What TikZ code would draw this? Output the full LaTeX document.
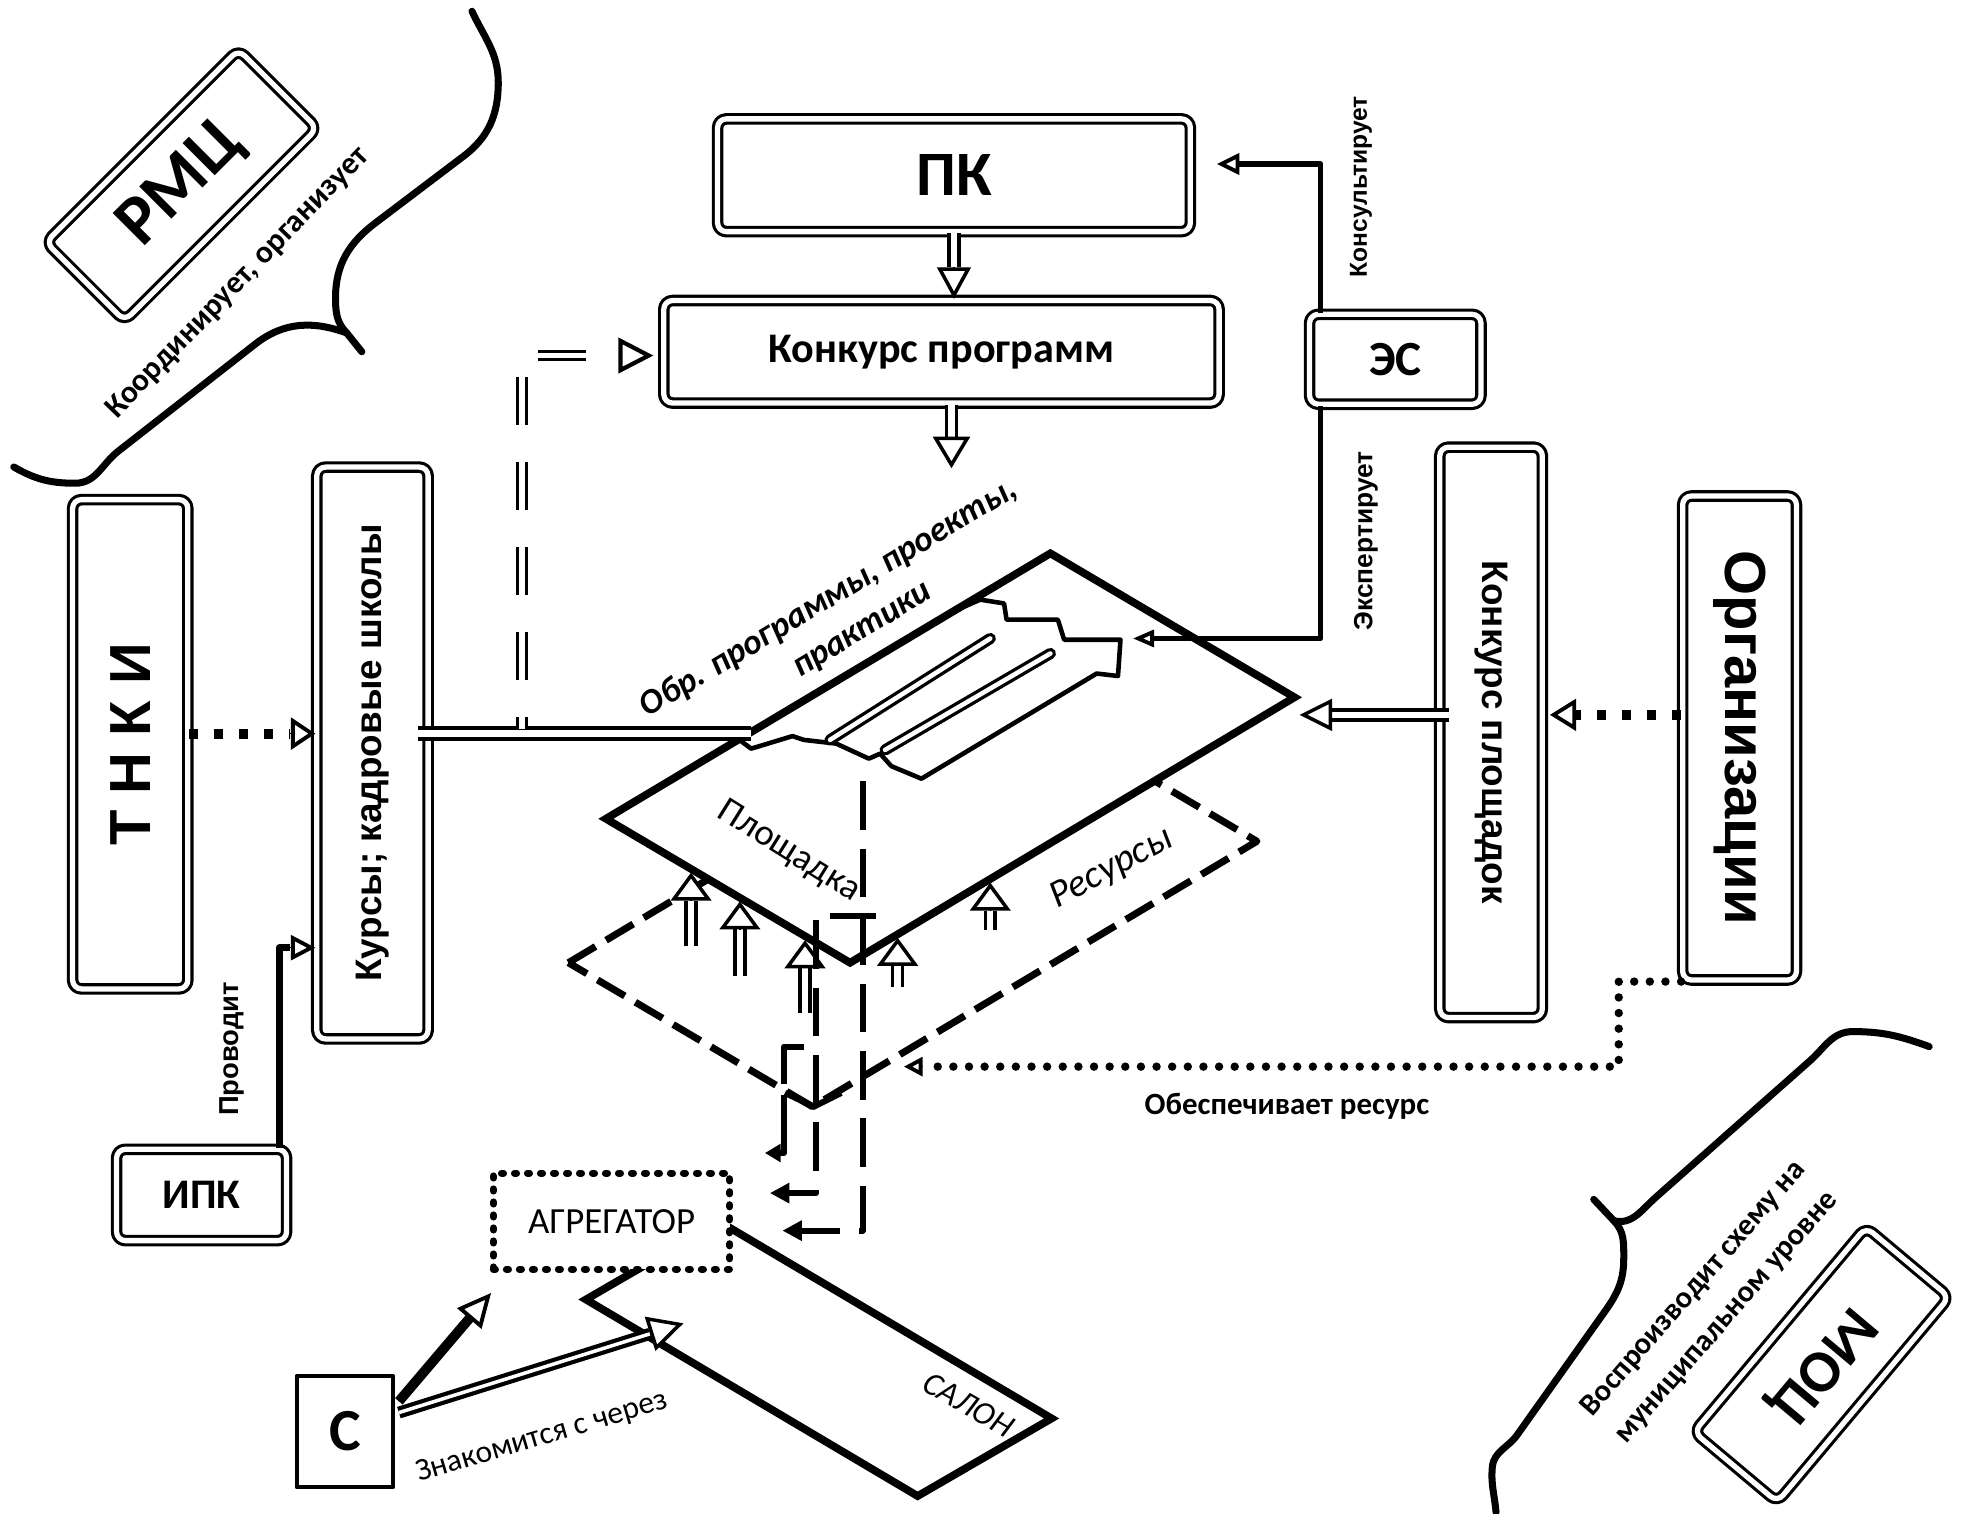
\documentclass[tikz,border=0pt]{standalone}
\usepackage{graphicx}
\usepackage{fontspec}
\setmainfont{Carlito}
\newfontfamily\arialf{Liberation Sans}
\usetikzlibrary{arrows.meta,calc}
\newcommand\fs[2]{\fontsize{#1pt}{#2pt}\selectfont}
\newcommand\hollowarr[5]{%
  \draw[#5] (#1) -- ($(#2)!#3!(#1)$);
  \draw[-{Triangle[fill=white,length=#3,width=#4,line width=1pt]}] ($(#2)!#3!(#1)$) -- (#2);}
\begin{document}
\begin{tikzpicture}[x=0.01252cm,y=-0.01252cm,line join=round,
  dbox/.style={draw,double=white,double distance=1.5pt,line width=0.9pt,rounded corners=2.5pt,fill=white,inner sep=0pt},
  sbox/.style={draw,line width=1.2pt,fill=white,inner sep=0pt},
  dotbox/.style={draw,line width=2pt,line cap=round,dash pattern=on 0.6pt off 3.1pt,fill=white,inner sep=0pt},
  hshaft/.style={draw=black,double=white,line width=1pt,double distance=1.8pt},
  cshaft/.style={draw=black,double=white,line width=1.2pt,double distance=1.0pt},
  pipe/.style={draw=black,double=white,line width=1pt,double distance=2.2pt},
  conn/.style={line width=1.6pt},
  sqdots/.style={line width=2.8pt,dash pattern=on 2.5pt off 4.6pt},
  rdots/.style={line width=2.4pt,line cap=round,dash pattern=on 0pt off 4.45pt},
  resdash/.style={line width=2pt,dash pattern=on 9pt off 3.5pt},
  vdash/.style={line width=1.7pt,dash pattern=on 13.9pt off 5.3pt},
  hdash/.style={draw=black,double=white,line width=0.9pt,double distance=1.5pt,dash pattern=on 13.53pt off 10.69pt,dash phase=10.33pt},
  bracel/.style={line width=2pt,line cap=round},
  paraline/.style={line width=2.2pt,line join=miter},
  btip/.style={-{Triangle[length=5.5pt,width=5.5pt]}},
  lbl/.style={inner sep=0pt}]
\useasboundingbox (0,0) rectangle (1568,1209);
\fill[white] (0,0) rectangle (1568,1209);

% braces
\draw[bracel] (377,9) to[out=-65,in=90] (398,66) to[out=-90,in=37] (370,125) -- (300,178) to[out=217,in=90] (268,238) to[out=-90,in=135] (277,266) -- (289,281);
\draw[bracel] (277,266) to[out=160,in=37] (205,274) -- (95,360) to[out=217,in=0] (60,386) to[out=180,in=-30] (11,373);
\draw[bracel] (1195,1208) to[out=95,in=-95] (1192,1172) to[out=85,in=235] (1212,1146) -- (1283,1046) to[out=55,in=-90] (1297,1005) to[out=90,in=-45] (1289,975) -- (1273,958);
\draw[bracel] (1289,975) to[out=-15,in=221] (1323,956) -- (1445,848) to[out=41,in=180] (1480,824) to[out=0,in=160] (1541,836);

% salon
\coordinate (sT) at (575,976); \coordinate (sR) at (840,1133);
\coordinate (sB) at (733,1195); \coordinate (sL) at (468,1038);
\draw[paraline] (sT) -- (sR) -- (sB) -- (sL) -- cycle;

% boxes
\node[dbox,minimum width=134.6pt,minimum height=32.1pt] (pk) at (762,140) {\fs{18}{18}\bfseries ПК};
\node[dbox,minimum width=158.1pt,minimum height=29.2pt] (kp) at (752,281) {\fs{12}{12}\bfseries Конкурс программ};
\node[dbox,minimum width=48.8pt,minimum height=25.6pt] (es) at (1114.5,287) {\fs{14}{14}\bfseries ЭС};
\node[dbox,minimum width=32.8pt,minimum height=139.3pt] (tnki) at (104,594.5) {\rotatebox{90}{\arialf\bfseries\fs{16.5}{16.5}Т Н К И}};
\node[dbox,minimum width=31.7pt,minimum height=162.8pt] (kursy) at (297.5,601.5) {\rotatebox{90}{\arialf\bfseries\fs{10.5}{10.5}Курсы; кадровые школы}};
\node[dbox,minimum width=29.2pt,minimum height=162.4pt] (kpl) at (1191,585) {\rotatebox{-90}{\arialf\bfseries\fs{10.5}{10.5}Конкурс площадок}};
\node[dbox,minimum width=32.4pt,minimum height=137.8pt] (org) at (1389.5,589.5) {\rotatebox{-90}{\arialf\bfseries\fs{16.5}{16.5}Организации}};
\node[dbox,minimum width=48.4pt,minimum height=26pt] (ipk) at (161,954.5) {\fs{12}{12}\bfseries ИПК};
\node[dotbox,minimum width=67.3pt,minimum height=27.4pt] (agr) at (488.5,975.5) {\fs{10.5}{10.5}АГРЕГАТОР};
\node[sbox,minimum width=27.4pt,minimum height=31.7pt] (cbox) at (275.5,1143.5) {\fs{17}{17}\bfseries С};
\node[dbox,rotate=45,minimum width=77.6pt,minimum height=31.7pt] (rmc) at (145,148) {\fs{20}{20}\bfseries РМЦ};
\node[dbox,rotate=230,minimum width=76.2pt,minimum height=31pt] (moc) at (1455,1090) {\fs{17}{17}\bfseries МОЦ};

% resources and platform
\coordinate (pL) at (484,654); \coordinate (pT) at (839,442);
\coordinate (pR) at (1034,557); \coordinate (pB) at (679,769);
\coordinate (rL) at (454,769); \coordinate (rT) at (809,557);
\coordinate (rR) at (1004,672); \coordinate (rB) at (649,884);
\draw[resdash] (rL) -- (rT) -- (rR) -- (rB) -- cycle;
\fill[white] (pL) -- (pT) -- (pR) -- (pB) -- cycle;
\filldraw[fill=white,line width=1.3pt] (606,581) -- (760,489) -- (783,479) -- (802,482) -- (804,495) -- (845,495) -- (850,511) -- (895,511) -- (893,540) -- (876,538) -- (736,622) -- (712,612) -- (703,602) -- (694,606) -- (668,594) -- (642,591) -- (633,588) -- (600,598) -- (592,592);
\draw[paraline] (pL) -- (pT) -- (pR) -- (pB) -- cycle;
\draw[line width=3.2pt,line cap=round] (663,591) -- (791,510);
\draw[white,line width=1.3pt,line cap=round] (663,591) -- (791,510);
\draw[line width=3.2pt,line cap=round] (707,599) -- (839,522);
\draw[white,line width=1.3pt,line cap=round] (707,599) -- (839,522);

% pipe from Kursy and dashed branch
\coordinate (pipeEnd) at (600,586);
\draw[pipe] ($(kursy.east |- pipeEnd)+(-9,0)$) -- (pipeEnd);
\coordinate (brB) at (495,284);
\coordinate (brTip) at ($(kp.west |- brB)+(-7,0)$);
\draw[hdash] (417,582) |- (brB);
\draw[-{Triangle[fill=white,length=10pt,width=10pt,line width=1.2pt]}] (brB) -- (brTip);

% PK -> konkurs, konkurs -> down
\coordinate (pkkp) at (kp.north -| pk.south);
\hollowarr{pk.south}{pkkp}{9pt}{9.5pt}{hshaft}
\coordinate (kpTop) at (kp.south -| 760,0);
\coordinate (kpOut) at (760,374);
\hollowarr{kpTop}{kpOut}{9pt}{10.5pt}{hshaft}

% ES connectors
\coordinate (pkIn) at (972,131);
\draw[conn,-{Triangle[fill=white,length=6.4pt,width=6pt,line width=1.1pt]}] ($(es.north west)+(10,0)$) |- (pkIn);
\coordinate (plIn) at (905,510);
\draw[conn,-{Triangle[fill=white,length=6pt,width=4.8pt,line width=1.1pt]}] ($(es.south west)+(10,0)$) |- (plIn);

% TNKI -> kursy
\coordinate (tkTip) at (252,586); \coordinate (tkB) at (232,586);
\draw[sqdots] (tnki.east |- tkTip) -- (tkB);
\draw[-{Triangle[fill=white,length=7pt,width=9pt,line width=1.1pt]}] (tkB) -- (tkTip);

% IPK -> kursy
\coordinate (ikTip) at (252,757); \coordinate (ikB) at (232,757);
\draw[line width=2pt] ($(ipk.north east)+(-7,0)$) |- (ikB);
\draw[-{Triangle[fill=white,length=7pt,width=7pt,line width=1.1pt]}] (ikB) -- (ikTip);

% konkurs ploshadok -> platform
\coordinate (kplTip) at (1038,571);
\coordinate (kplOut) at ($(kpl.west |- kplTip)+(9,0)$);
\hollowarr{kplOut}{kplTip}{9.3pt}{9pt}{hshaft}

% org -> konkurs ploshadok
\coordinate (okTip) at (1238,571); \coordinate (okB) at (1259,571);
\draw[sqdots] (org.west |- okTip) -- (okB);
\draw[-{Triangle[fill=white,length=7.5pt,width=9pt,line width=1.1pt]}] (okB) -- (okTip);

% org -> resources
\coordinate (odc) at (1293,852); \coordinate (resTip) at (722,852); \coordinate (resB) at (737,852);
\draw[rdots] (org.south west) -| (odc) -- (resB);
\draw[-{Triangle[fill=white,length=5.3pt,width=5.3pt,line width=1.1pt]}] (resB) -- (resTip);

% up arrows resources -> platform
\coordinate (u1s) at (552,756); \coordinate (u1e) at (552,697);
\coordinate (u2s) at (591,780); \coordinate (u2e) at (591,720);
\coordinate (u3s) at (643,809); \coordinate (u3e) at (643,751);
\coordinate (u4s) at (717,788); \coordinate (u4e) at (717,749);
\coordinate (u5s) at (791,743); \coordinate (u5e) at (791,705);
\hollowarr{u1s}{u1e}{8pt}{11.5pt}{hshaft}
\hollowarr{u2s}{u2e}{8pt}{11.5pt}{hshaft}
\hollowarr{u3s}{u3e}{8pt}{11.5pt}{hshaft}
\hollowarr{u4s}{u4e}{8pt}{11.5pt}{hshaft}
\hollowarr{u5s}{u5e}{8pt}{11.5pt}{hshaft}

% lines to aggregator
\coordinate (ag1) at (625,983); \coordinate (ag2) at (615,953); \coordinate (ag3) at (611,921);
\draw[vdash,btip] (689,624) |- (ag1);
\draw[vdash,btip] (652,735) |- (ag2);
\draw[line width=1.7pt] (663,732) -- (700,732);
\draw[line width=1.7pt] (642,836) -- (626,836) -- (626,866);
\draw[line width=1.7pt] (627,873) -- (650,884) -- (672,873);
\draw[line width=1.7pt,-{Triangle[length=4.5pt,width=5pt]}] (626,875) |- (ag3);

% C -> aggregator, C -> salon
\coordinate (c1) at ($(cbox.north east)+(3,22)$);
\coordinate (c2) at ($(cbox.north east)+(3,31)$);
\coordinate (agIn) at ($(agr.south west)+(1,16)$);
\coordinate (slIn) at (546,1057);
\draw[line width=2.8pt,-{Triangle[fill=white,length=9.6pt,width=8.9pt,line width=1.1pt]}] (c1) -- (agIn);
\hollowarr{c2}{slIn}{10pt}{10pt}{cshaft}

% labels
\node[lbl,rotate=46,font=\fs{9}{11}\bfseries] (lrmc) at (190,226) {Координирует, организует};
\node[lbl,rotate=31,font=\fs{10}{12}\bfseries\itshape] (obr1) at (662,478) {Обр. программы, проекты,};
\node[lbl,rotate=31,font=\fs{10}{12}\bfseries\itshape] (obr2) at (690,505) {практики};
\node[lbl,rotate=-32,font=\fs{10.5}{12}] (plosh) at (630,680) {Площадка};
\node[lbl,rotate=28,font=\fs{11}{12}\itshape] (resurs) at (888,694) {Ресурсы};
\node[lbl,rotate=-30,font=\fs{9.4}{11}\itshape] (salon) at (774,1122) {САЛОН};
\node[lbl,rotate=16.5,font=\fs{9}{11}] (znak) at (433,1148) {Знакомится с через};
\node[lbl,font=\fs{8.8}{11}\bfseries] (obesp) at (1028,884) {Обеспечивает ресурс};
\node[lbl,rotate=49,align=center,font=\fs{8.7}{12.4}\bfseries] (vospr) at (1366,1041) {Воспроизводит схему на\\муниципальном уровне};
\node[lbl,rotate=90,font=\arialf\bfseries\fs{7.8}{9}] (provodit) at (185,838) {Проводит};
\node[lbl,rotate=90,font=\arialf\bfseries\fs{7.5}{9}] (ekspert) at (1091,432) {Экспертирует};
\node[lbl,rotate=90,font=\arialf\bfseries\fs{7}{9}] (konsult) at (1087,149) {Консультирует};
\end{tikzpicture}
\end{document}
